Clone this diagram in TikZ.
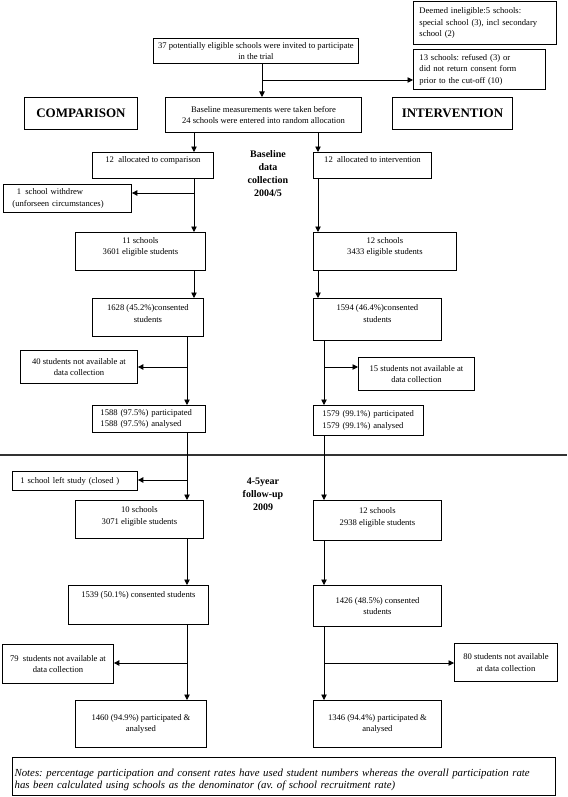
\documentclass[tikz,border=0pt]{standalone}
\usepackage{fontspec}
\setmainfont{Liberation Serif}
\usetikzlibrary{arrows.meta}
\frenchspacing
\begin{document}
\begin{tikzpicture}[x=1pt,y=-1pt,
 bx/.style={draw, line width=0.9pt, inner sep=2pt, anchor=north west, align=center, font=\fontsize{8.6}{11.5}\selectfont},
 lbx/.style={bx, align=left, inner xsep=#1},
 head/.style={bx, font=\fontsize{13}{15}\selectfont\bfseries},
 phase/.style={align=center, font=\fontsize{10}{13}\selectfont\bfseries},
 arr/.style={line width=0.9pt, -{Triangle[length=5.5pt,width=5.5pt]}},
 up/.style={text depth=#1}]
\useasboundingbox (0,0) rectangle (567,797);

% top
\node[lbx=6pt, text width=131pt, minimum height=43pt] (deemed) at (413,1) {Deemed ineligible:5 schools:\\special school (3), incl secondary\\school (2)};
\node[bx, minimum width=205pt, minimum height=25pt] (invite) at (153,38) {37 potentially eligible schools were invited to participate\\in the trial};
\node[lbx=6pt, text width=120pt, minimum height=40pt] (refused) at (413,49) {13 schools: refused (3) or\\did not return consent form\\prior to the cut-off (10)};
\node[head, minimum width=113pt, minimum height=32pt] (comp) at (24,97) {COMPARISON};
\node[bx, minimum width=196pt, minimum height=35pt] (base) at (165,97) {Baseline measurements were taken before\\24 schools were entered into random allocation};
\node[head, minimum width=120pt, minimum height=32pt] (interv) at (392,97) {INTERVENTION};

% baseline
\node[bx, up=12pt, minimum width=121pt, minimum height=26pt] (alc) at (92,152) {12\enspace allocated to comparison};
\node[bx, up=12pt, minimum width=118pt, minimum height=26pt] (ali) at (313,152) {12\enspace allocated to intervention};
\node[phase] (bdc) at (268,174) {Baseline\\data\\collection\\2004/5};
\node[lbx=9pt, text width=110pt, minimum height=28pt] (withdrew) at (3,184) {\enspace1\enspace school withdrew\\(unforseen circumstances)};
\node[bx, up=11pt, minimum width=130pt, minimum height=38pt] (s11) at (75,232) {11 schools\\3601 eligible students};
\node[bx, up=11pt, minimum width=143pt, minimum height=38pt] (s12) at (313,232) {12 schools\\3433 eligible students};
\node[bx, up=8pt, minimum width=111pt, minimum height=38pt] (c1628) at (92,298) {1628 (45.2\%)consented\\students};
\node[bx, up=12pt, minimum width=128pt, minimum height=42pt] (c1594) at (313,298) {1594 (46.4\%)consented\\students};
\node[bx, minimum width=117pt, minimum height=33pt] (na40) at (20,350) {40 students not available at\\data collection};
\node[bx, minimum width=116pt, minimum height=33pt] (na15) at (358,357) {15 students not available at\\data collection};
\node[lbx=8pt, text width=97pt, minimum height=27pt] (p1588) at (92,405) {1588 (97.5\%) participated\\1588 (97.5\%) analysed};
\node[lbx=9pt, text width=92pt, minimum height=30pt] (p1579) at (313,405) {1579 (99.1\%) participated\\1579 (99.1\%) analysed};

% separator
\draw[line width=1.5pt, black!80] (0,455) -- (567,455);

% follow-up
\node[phase] (fu) at (263,494) {4-5year\\follow-up\\2009};
\node[lbx=8pt, text width=109pt, minimum height=19pt] (left1) at (12,471) {1 school left study (closed )};
\node[bx, up=8pt, minimum width=128pt, minimum height=38pt] (s10) at (75,500) {10 schools\\3071 eligible students};
\node[bx, up=8pt, minimum width=128pt, minimum height=40pt] (s12b) at (313,500) {12 schools\\2938 eligible students};
\node[bx, up=21pt, minimum width=140pt, minimum height=39pt] (c1539) at (68,585) {1539 (50.1\%) consented students};
\node[bx, minimum width=128pt, minimum height=41pt] (c1426) at (313,585) {1426 (48.5\%) consented\\students};
\node[bx, inner xsep=1pt, minimum width=111pt, minimum height=39pt] (na79) at (2,644) {79\enspace students not available at\\data collection};
\node[bx, inner xsep=1pt, minimum width=103pt, minimum height=38pt] (na80) at (454,643) {80 students not available\\at data collection};
\node[bx, minimum width=131pt, minimum height=47pt] (p1460) at (75,700) {1460 (94.9\%) participated \&\\analysed};
\node[bx, minimum width=128pt, minimum height=47pt] (p1346) at (313,700) {1346 (94.4\%) participated \&\\analysed};
\node[lbx=2pt, line width=1.2pt, up=8pt, text width=539pt, minimum height=38pt, font=\fontsize{10.8}{12}\selectfont\itshape] (notes) at (12,757) {Notes: percentage participation and consent rates have used student numbers whereas the overall participation rate\\has been calculated using schools as the denominator (av. of school recruitment rate)};

% connectors
\coordinate (j1) at (262,80);
\draw[arr] (j1 |- invite.south) -- (j1 |- base.north);
\draw[arr] (j1) -- (j1 -| refused.west);

\coordinate (cA) at (194,193);
\coordinate (iA) at (318,193);
\draw[arr] (cA |- base.south) -- (cA |- alc.north);
\draw[arr] (iA |- base.south) -- (iA |- ali.north);
\draw[arr] (cA |- alc.south) -- (cA |- s11.north);
\draw[arr] (cA) -- (cA -| withdrew.east);
\draw[arr] (iA |- ali.south) -- (iA |- s12.north);
\draw[arr] (cA |- s11.south) -- (cA |- c1628.north);
\draw[arr] (iA |- s12.south) -- (iA |- c1594.north);

\coordinate (cB) at (187,367);
\coordinate (iB) at (324,367);
\draw[arr] (cB |- c1628.south) -- (cB |- p1588.north);
\draw[arr] (cB) -- (cB -| na40.east);
\draw[arr] (iB |- c1594.south) -- (iB |- p1579.north);
\draw[arr] (iB) -- (iB -| na15.west);

\coordinate (cC) at (187,480);
\draw[arr] (cC |- p1588.south) -- (cC |- s10.north);
\draw[arr] (cC) -- (cC -| left1.east);
\draw[arr] (iB |- p1579.south) -- (iB |- s12b.north);
\draw[arr] (cC |- s10.south) -- (cC |- c1539.north);
\draw[arr] (iB |- s12b.south) -- (iB |- c1426.north);

\coordinate (cD) at (187,663);
\coordinate (iD) at (324,663);
\draw[arr] (cD |- c1539.south) -- (cD |- p1460.north);
\draw[arr] (cD) -- (cD -| na79.east);
\draw[arr] (iD |- c1426.south) -- (iD |- p1346.north);
\draw[arr] (iD) -- (iD -| na80.west);
\end{tikzpicture}
\end{document}
